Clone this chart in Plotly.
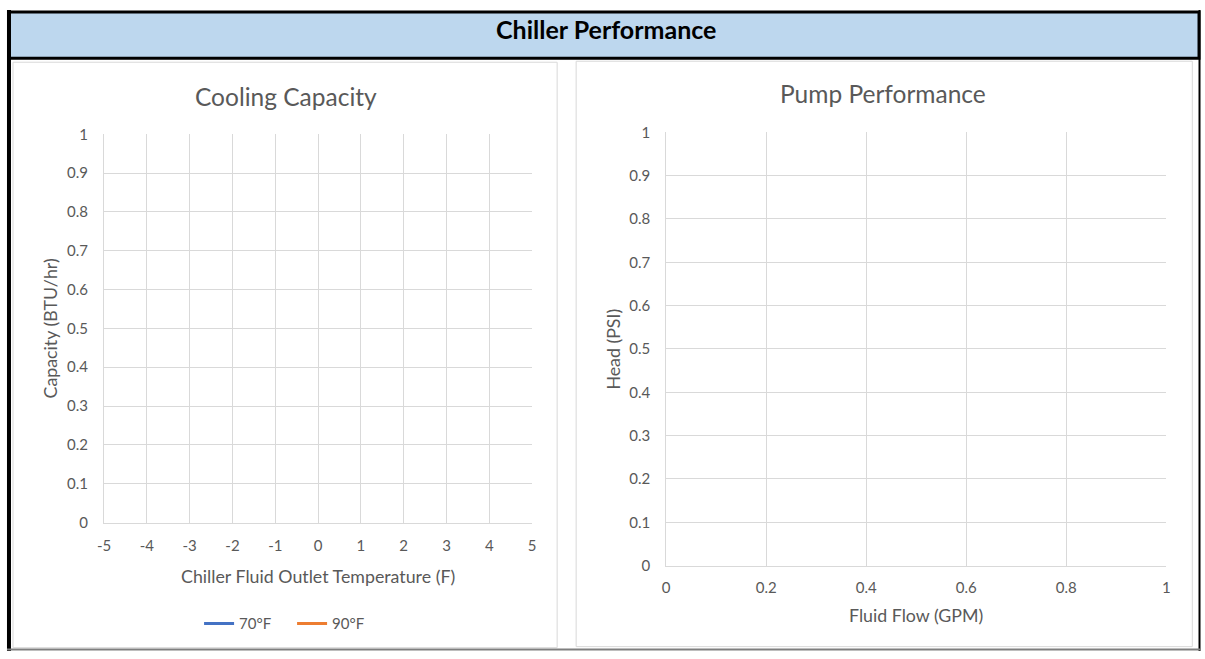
import plotly.graph_objects as go

W, H = 1205, 659

# ---- data ----
banner_title = "Chiller Performance"
left_title = "Cooling Capacity"
right_title = "Pump Performance"
left_xtitle = "Chiller Fluid Outlet Temperature (F)"
left_ytitle = "Capacity (BTU/hr)"
right_xtitle = "Fluid Flow (GPM)"
right_ytitle = "Head (PSI)"

series_names = ["70°F", "90°F"]
series_colors = ["#4472C4", "#ED7D31"]
# the reference series hold no plotted points
series_x = [[None], [None]]
series_y = [[None], [None]]

left_xticks = [-5, -4, -3, -2, -1, 0, 1, 2, 3, 4, 5]
left_xticklabels = ["-5", "-4", "-3", "-2", "-1", "0", "1", "2", "3", "4", "5"]
y_ticks = [0, 0.1, 0.2, 0.3, 0.4, 0.5, 0.6, 0.7, 0.8, 0.9, 1]
y_ticklabels = ["0", "0.1", "0.2", "0.3", "0.4", "0.5", "0.6", "0.7", "0.8", "0.9", "1"]
right_xticks = [0, 0.2, 0.4, 0.6, 0.8, 1]
right_xticklabels = ["0", "0.2", "0.4", "0.6", "0.8", "1"]

FONT = "Lato"
TXT = "#595959"
GRID = "#D9D9D9"

# the photographed page shows the figure slightly inset; positions below are
# given in target-picture pixels and converted to paper coordinates
AX, BX = 0.9906, 7.0
AY, BY = 0.972, 10.8


def px(t):
    return min(max(((t - BX) / AX) / W, 0.0), 1.0)


def py(t):
    return min(max(1 - ((t - BY) / AY) / H, 0.0), 1.0)


fig = go.Figure()

for name, color, xs, ys in zip(series_names, series_colors, series_x, series_y):
    fig.add_trace(go.Scatter(x=xs, y=ys, mode="lines", name=name,
                             line=dict(color=color, width=3),
                             xaxis="x", yaxis="y", showlegend=True))

fig.add_trace(go.Scatter(x=[None], y=[None], mode="lines", showlegend=False,
                         xaxis="x2", yaxis="y2"))

axis_common = dict(showgrid=True, gridcolor=GRID, gridwidth=1, zeroline=False,
                   showline=True, linecolor=GRID, linewidth=1,
                   ticks="outside", tickcolor="rgba(0,0,0,0)",
                   tickfont=dict(family=FONT, size=15, color=TXT), fixedrange=True)

fig.update_layout(
    autosize=True,
    margin=dict(l=0, r=0, t=0, b=0),
    paper_bgcolor="white", plot_bgcolor="white",
    font=dict(family=FONT, color=TXT),
    xaxis=dict(domain=[px(104), px(532)], range=[-5, 5], anchor="y",
               tickvals=left_xticks, ticktext=left_xticklabels, ticklen=9, **axis_common),
    yaxis=dict(domain=[py(523), py(135)], range=[0, 1], anchor="x",
               tickvals=y_ticks, ticktext=y_ticklabels, ticklen=12, **axis_common),
    xaxis2=dict(domain=[px(666), px(1166)], range=[0, 1], anchor="y2",
                tickvals=right_xticks, ticktext=right_xticklabels, ticklen=8, **axis_common),
    yaxis2=dict(domain=[py(566), py(133)], range=[0, 1], anchor="x2",
                tickvals=y_ticks, ticktext=y_ticklabels, ticklen=12, **axis_common),
    legend=dict(orientation="h", x=px(292), xanchor="center", y=py(624), yanchor="middle",
                font=dict(family=FONT, size=15, color=TXT), itemwidth=30,
                entrywidth=48, entrywidthmode="pixels",
                bgcolor="rgba(0,0,0,0)"),
    showlegend=True,
)

shapes = []
# panels
shapes.append(dict(type="rect", xref="paper", yref="paper", x0=px(13), x1=px(557), y0=py(648), y1=py(63),
                   line=dict(color=GRID, width=1), fillcolor="rgba(0,0,0,0)", layer="below"))
shapes.append(dict(type="rect", xref="paper", yref="paper", x0=px(576), x1=px(1192), y0=py(647), y1=py(62),
                   line=dict(color=GRID, width=1), fillcolor="rgba(0,0,0,0)", layer="below"))
# banner
shapes.append(dict(type="rect", xref="paper", yref="paper", x0=2 / W, x1=1 - 2 / W, y0=py(59), y1=1 - 2 / H,
                   line=dict(color="black", width=3), fillcolor="#BDD7EE", layer="below"))
# outer frame
shapes.append(dict(type="line", xref="paper", yref="paper", x0=2 / W, x1=2 / W, y0=0, y1=1,
                   line=dict(color="black", width=4)))
shapes.append(dict(type="line", xref="paper", yref="paper", x0=1 - 1.5 / W, x1=1 - 1.5 / W, y0=0, y1=1,
                   line=dict(color="black", width=2)))
shapes.append(dict(type="line", xref="paper", yref="paper", x0=0, x1=1, y0=1.5 / H, y1=1.5 / H,
                   line=dict(color="#7F7F7F", width=2)))
fig.update_layout(shapes=shapes)

ann = []
ann.append(dict(text="<b>" + banner_title + "</b>", x=px(606), y=py(30), xref="paper", yref="paper",
                showarrow=False, font=dict(family=FONT, size=25, color="black"), xanchor="center", yanchor="middle"))
ann.append(dict(text=left_title, x=px(286), y=py(97), xref="paper", yref="paper",
                showarrow=False, font=dict(family=FONT, size=24.5, color=TXT), xanchor="center", yanchor="middle"))
ann.append(dict(text=right_title, x=px(883), y=py(94), xref="paper", yref="paper",
                showarrow=False, font=dict(family=FONT, size=24.5, color=TXT), xanchor="center", yanchor="middle"))
ann.append(dict(text=left_xtitle, x=px(318), y=py(576), xref="paper", yref="paper",
                showarrow=False, font=dict(family=FONT, size=17.8, color=TXT), xanchor="center", yanchor="middle"))
ann.append(dict(text=right_xtitle, x=px(916), y=py(615), xref="paper", yref="paper",
                showarrow=False, font=dict(family=FONT, size=17.8, color=TXT), xanchor="center", yanchor="middle"))
ann.append(dict(text=left_ytitle, x=px(50), y=py(329), xref="paper", yref="paper", textangle=-90,
                showarrow=False, font=dict(family=FONT, size=17.8, color=TXT), xanchor="center", yanchor="middle"))
ann.append(dict(text=right_ytitle, x=px(613), y=py(350), xref="paper", yref="paper", textangle=-90,
                showarrow=False, font=dict(family=FONT, size=17.8, color=TXT), xanchor="center", yanchor="middle"))
fig.update_layout(annotations=ann)

# pin the plot div to the top-left corner of the viewport (no body margin / scroll)
fig.write_html("out.html",
               default_width="100vw;position:fixed;left:0;top:0;margin:0",
               default_height="100vh",
               config={"displayModeBar": False, "responsive": True})
